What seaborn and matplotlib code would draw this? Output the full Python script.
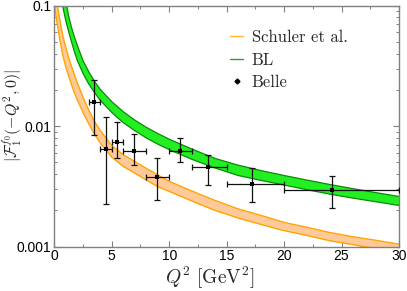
import numpy as np
import pandas as pd
import matplotlib
matplotlib.use("Agg")
import matplotlib.pyplot as plt
import matplotlib.ticker as mtick
from matplotlib.lines import Line2D
import seaborn as sns

# ---------- Data ----------
q2_grid = [0, 0.25, 0.5, 0.75, 1, 1.25, 1.5, 1.75, 2, 2.5, 3, 3.5, 4, 5, 6, 7, 8, 9, 10,
           12, 14, 16, 18, 20, 22, 24, 26, 28, 30]

schuler_hi = [0.1489, 0.1023, 0.0742, 0.0556, 0.0450, 0.0370, 0.0313, 0.0268, 0.0229,
              0.01743, 0.01358, 0.01092, 0.00921, 0.00691, 0.00580, 0.00510, 0.00447,
              0.00394, 0.00349, 0.00289, 0.00242, 0.00206, 0.00182, 0.00159, 0.00145,
              0.00131, 0.00121, 0.00113, 0.00105]
schuler_lo = [0.1027, 0.0706, 0.0512, 0.0384, 0.0311, 0.0260, 0.0221, 0.0189, 0.0166,
              0.01300, 0.01045, 0.00860, 0.00725, 0.00553, 0.00464, 0.00408, 0.00358,
              0.00315, 0.00288, 0.00239, 0.00200, 0.00173, 0.00153, 0.00136, 0.00124,
              0.00112, 0.00104, 0.00096, 0.00090]

bl_hi = [0.6, 0.45, 0.3, 0.165, 0.11, 0.082, 0.066, 0.055, 0.0470, 0.0350, 0.0283,
         0.0236, 0.0202, 0.0160, 0.0132, 0.01125, 0.0098, 0.0087, 0.0078, 0.00645,
         0.0054, 0.00475, 0.00428, 0.00390, 0.00357, 0.00328, 0.00303, 0.00281, 0.00261]
bl_lo = [0.4, 0.25, 0.15, 0.097, 0.075, 0.061, 0.050, 0.0415, 0.0352, 0.0274, 0.0224,
         0.0190, 0.0164, 0.0130, 0.0107, 0.0092, 0.0080, 0.0071, 0.0064, 0.0053,
         0.0045, 0.0039, 0.00355, 0.00325, 0.00297, 0.00273, 0.00253, 0.00236, 0.0022]

belle_q2 = [3.45, 4.5, 5.48, 6.9, 8.9, 10.93, 13.37, 17.2, 24.2]
belle_bin_lo = [3, 4, 5, 6, 8, 10, 12, 15, 20]
belle_bin_hi = [4, 5, 6, 8, 10, 12, 15, 20, 30]
belle_f = [0.0158, 0.00646, 0.00743, 0.00626, 0.00379, 0.00626, 0.00455, 0.00331, 0.00295]
belle_up = [0.024, 0.0120, 0.0108, 0.00855, 0.0054, 0.008, 0.00576, 0.00447, 0.00386]
belle_dn = [0.00845, 0.00225, 0.0054, 0.00476, 0.00246, 0.00507, 0.00325, 0.00236, 0.00208]

# ---------- Styling ----------
sns.set_style("ticks")
plt.rcParams["font.family"] = ["Liberation Sans", "DejaVu Sans"]
plt.rcParams["mathtext.fontset"] = "cm"

ORANGE_EDGE = "#FFA500"
ORANGE_FILL = "#FFC99A"
GREEN_EDGE = "#0A8A0A"
GREEN_FILL = "#22EE22"
AX_GRAY = "#808080"

fig = plt.figure(figsize=(4.07, 2.91), dpi=100)
ax = fig.add_axes([0.1334, 0.1522, 0.8469, 0.8282])

bands = pd.DataFrame({"q2": q2_grid, "s_hi": schuler_hi, "s_lo": schuler_lo,
                      "b_hi": bl_hi, "b_lo": bl_lo})

# Schuler et al. band
ax.fill_between(bands["q2"], bands["s_lo"], bands["s_hi"], color=ORANGE_FILL, lw=0, zorder=1)
sns.lineplot(data=bands, x="q2", y="s_hi", color=ORANGE_EDGE, lw=1.0, ax=ax, zorder=2)
sns.lineplot(data=bands, x="q2", y="s_lo", color=ORANGE_EDGE, lw=1.0, ax=ax, zorder=2)

# BL band
ax.fill_between(bands["q2"], bands["b_lo"], bands["b_hi"], color=GREEN_FILL, lw=0, zorder=1)
sns.lineplot(data=bands, x="q2", y="b_hi", color=GREEN_EDGE, lw=0.9, ax=ax, zorder=2)
sns.lineplot(data=bands, x="q2", y="b_lo", color=GREEN_EDGE, lw=0.9, ax=ax, zorder=2)

# Belle data
bq = np.array(belle_q2)
bf = np.array(belle_f)
xerr = [bq - np.array(belle_bin_lo), np.array(belle_bin_hi) - bq]
yerr = [bf - np.array(belle_dn), np.array(belle_up) - bf]
ax.errorbar(bq, bf, xerr=xerr, yerr=yerr, fmt="none", ecolor="#111111",
            elinewidth=0.9, capsize=2.2, capthick=0.9, zorder=4)
sns.scatterplot(x=belle_q2, y=belle_f, color="black", s=9, marker="s", linewidth=0, ax=ax, zorder=5)

# ---------- Axes ----------
ax.set_yscale("log")
ax.set_xlim(0, 30)
ax.set_ylim(0.001, 0.1)
ax.set_xticks([0, 5, 10, 15, 20, 25, 30])
ax.xaxis.set_minor_locator(mtick.MultipleLocator(2.5))
ax.yaxis.set_major_locator(mtick.FixedLocator([0.001, 0.01, 0.1]))
ax.yaxis.set_major_formatter(mtick.FuncFormatter(lambda v, _: f"{v:g}"))
ax.yaxis.set_minor_locator(mtick.LogLocator(base=10, subs=np.arange(2, 10)))
ax.yaxis.set_minor_formatter(mtick.NullFormatter())

ax.tick_params(which="both", direction="in", top=True, right=True, color=AX_GRAY,
               labelsize=10, labelcolor="black")
ax.tick_params(which="major", length=4, width=0.8, pad=2)
ax.tick_params(which="minor", length=2.5, width=0.7)
for sp in ax.spines.values():
    sp.set_color(AX_GRAY)
    sp.set_linewidth(1.0)

ax.set_xlabel(r"$Q^2\ [\mathrm{GeV}^2]$", fontsize=14)
ax.set_ylabel(r"$|\mathcal{F}_1^{f_0}(-Q^2,0)|$", fontsize=11.5)
ax.xaxis.set_label_coords(0.451, -0.075)
ax.yaxis.set_label_coords(-0.085, 0.545)

handles = [Line2D([], [], color="#FFB52E", lw=1.0),
           Line2D([], [], color="#2E9E2E", lw=1.0),
           Line2D([], [], color="black", lw=0, marker="D", ms=2.5)]
ax.legend(handles, ["Schuler et al.", "BL", "Belle"], loc="upper left",
          bbox_to_anchor=(0.51, 0.90), frameon=False, handlelength=0.8,
          handletextpad=0.5, labelspacing=0.43, borderpad=0, borderaxespad=0,
          prop={"family": "cmr10", "size": 12})

fig.savefig("out.png", dpi=100)
